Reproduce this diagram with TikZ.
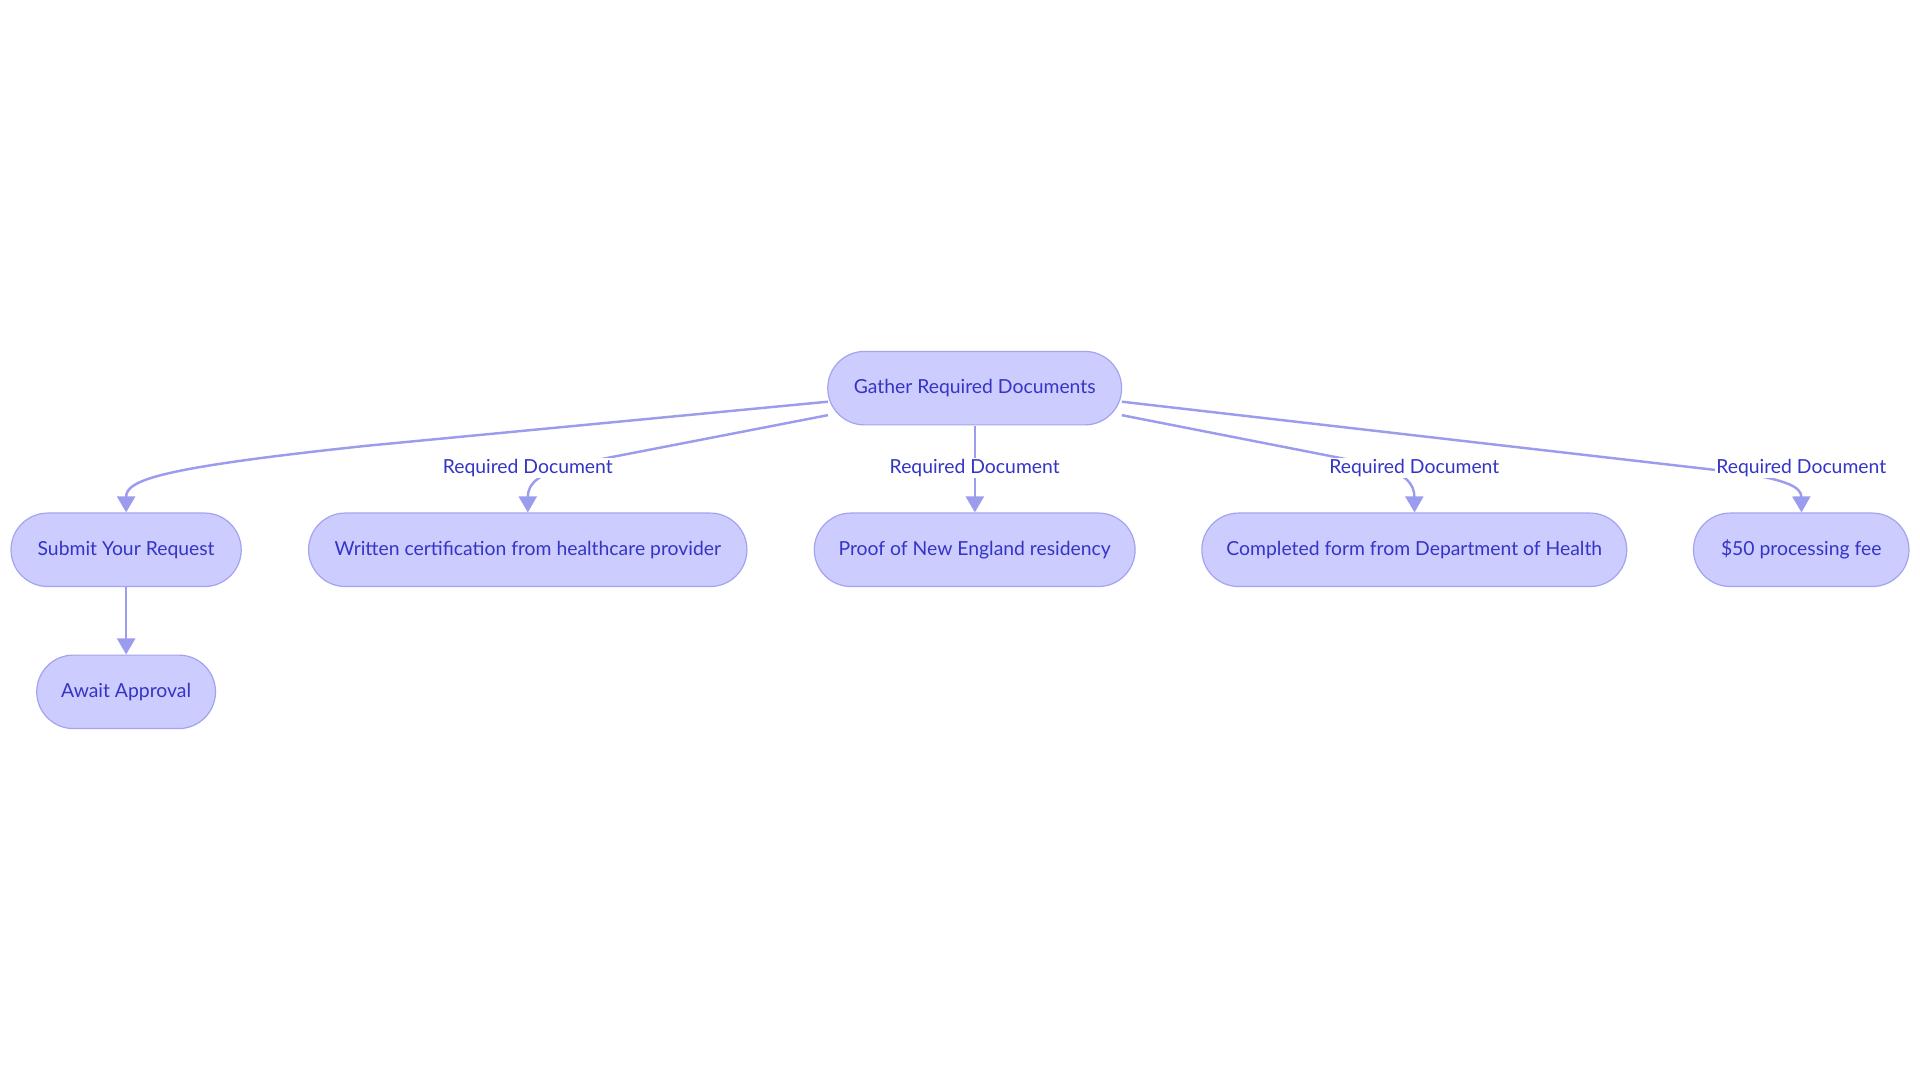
\documentclass[tikz,border=0pt]{standalone}
\usepackage{fontspec}
\setmainfont{Lato}
\usetikzlibrary{arrows.meta,shapes.misc}
\definecolor{nodefill}{HTML}{CCCCFF}
\definecolor{nodeline}{HTML}{A3A3F0}
\definecolor{txt}{HTML}{3434C6}
\definecolor{edge}{HTML}{9C9CEE}
\tikzset{
  box/.style={rounded rectangle, draw=nodeline, line width=1.2pt, fill=nodefill,
    minimum height=60pt, inner sep=0pt, text=txt, font=\fontsize{15.8}{19}\selectfont},
  conn/.style={draw=edge, line width=2.45pt, -{Triangle[length=16pt,width=18pt]}},
  lbl/.style={fill=white, text=txt, inner sep=1pt, font=\fontsize{15.8}{19}\selectfont}
}
\begin{document}
\begin{tikzpicture}[x=1pt,y=-1pt,scale=1.2245,every node/.append style={transform shape}]
\useasboundingbox (0,0) rectangle (1568,884.4);
\fill[white] (0,0) rectangle (1568,884.4);
\node[box, minimum width=240pt] (g) at (796,317) {Gather Required Documents};
\node[box, minimum width=188pt] (s) at (103,449) {Submit Your Request};
\node[box, minimum width=358pt] (w) at (431,449) {Written certification from healthcare provider};
\node[box, minimum width=262pt] (p) at (796,449) {Proof of New England residency};
\node[box, minimum width=347pt] (c) at (1155,449) {Completed form from Department of Health};
\node[box, minimum width=176pt] (f) at (1471,449) {\$50 processing fee};
\node[box, minimum width=146pt] (a) at (103,565) {Await Approval};
% edges
\coordinate (g1) at (676,328);
\coordinate (g2) at (676,339);
\coordinate (g3) at (916,339);
\coordinate (g4) at (916,328);
\draw[conn] (g1) -- (300,364) .. controls (130,382) and (103,392) .. (s.north);
\draw[conn] (g2) -- (470,379) .. controls (440,386) and (431,395) .. (w.north);
\draw[conn] (g.south) -- (p.north);
\draw[conn] (g3) -- (1120,379) .. controls (1148,386) and (1155,395) .. (c.north);
\draw[conn] (g4) -- (1420,386) .. controls (1460,392) and (1471,398) .. (f.north);
\draw[conn] (s.south) -- (a.north);
% labels
\node[lbl] (l1) at (431,382) {Required Document};
\node[lbl] (l2) at (796,382) {Required Document};
\node[lbl] (l3) at (1155,382) {Required Document};
\node[lbl] (l4) at (1471,382) {Required Document};
\end{tikzpicture}
\end{document}
